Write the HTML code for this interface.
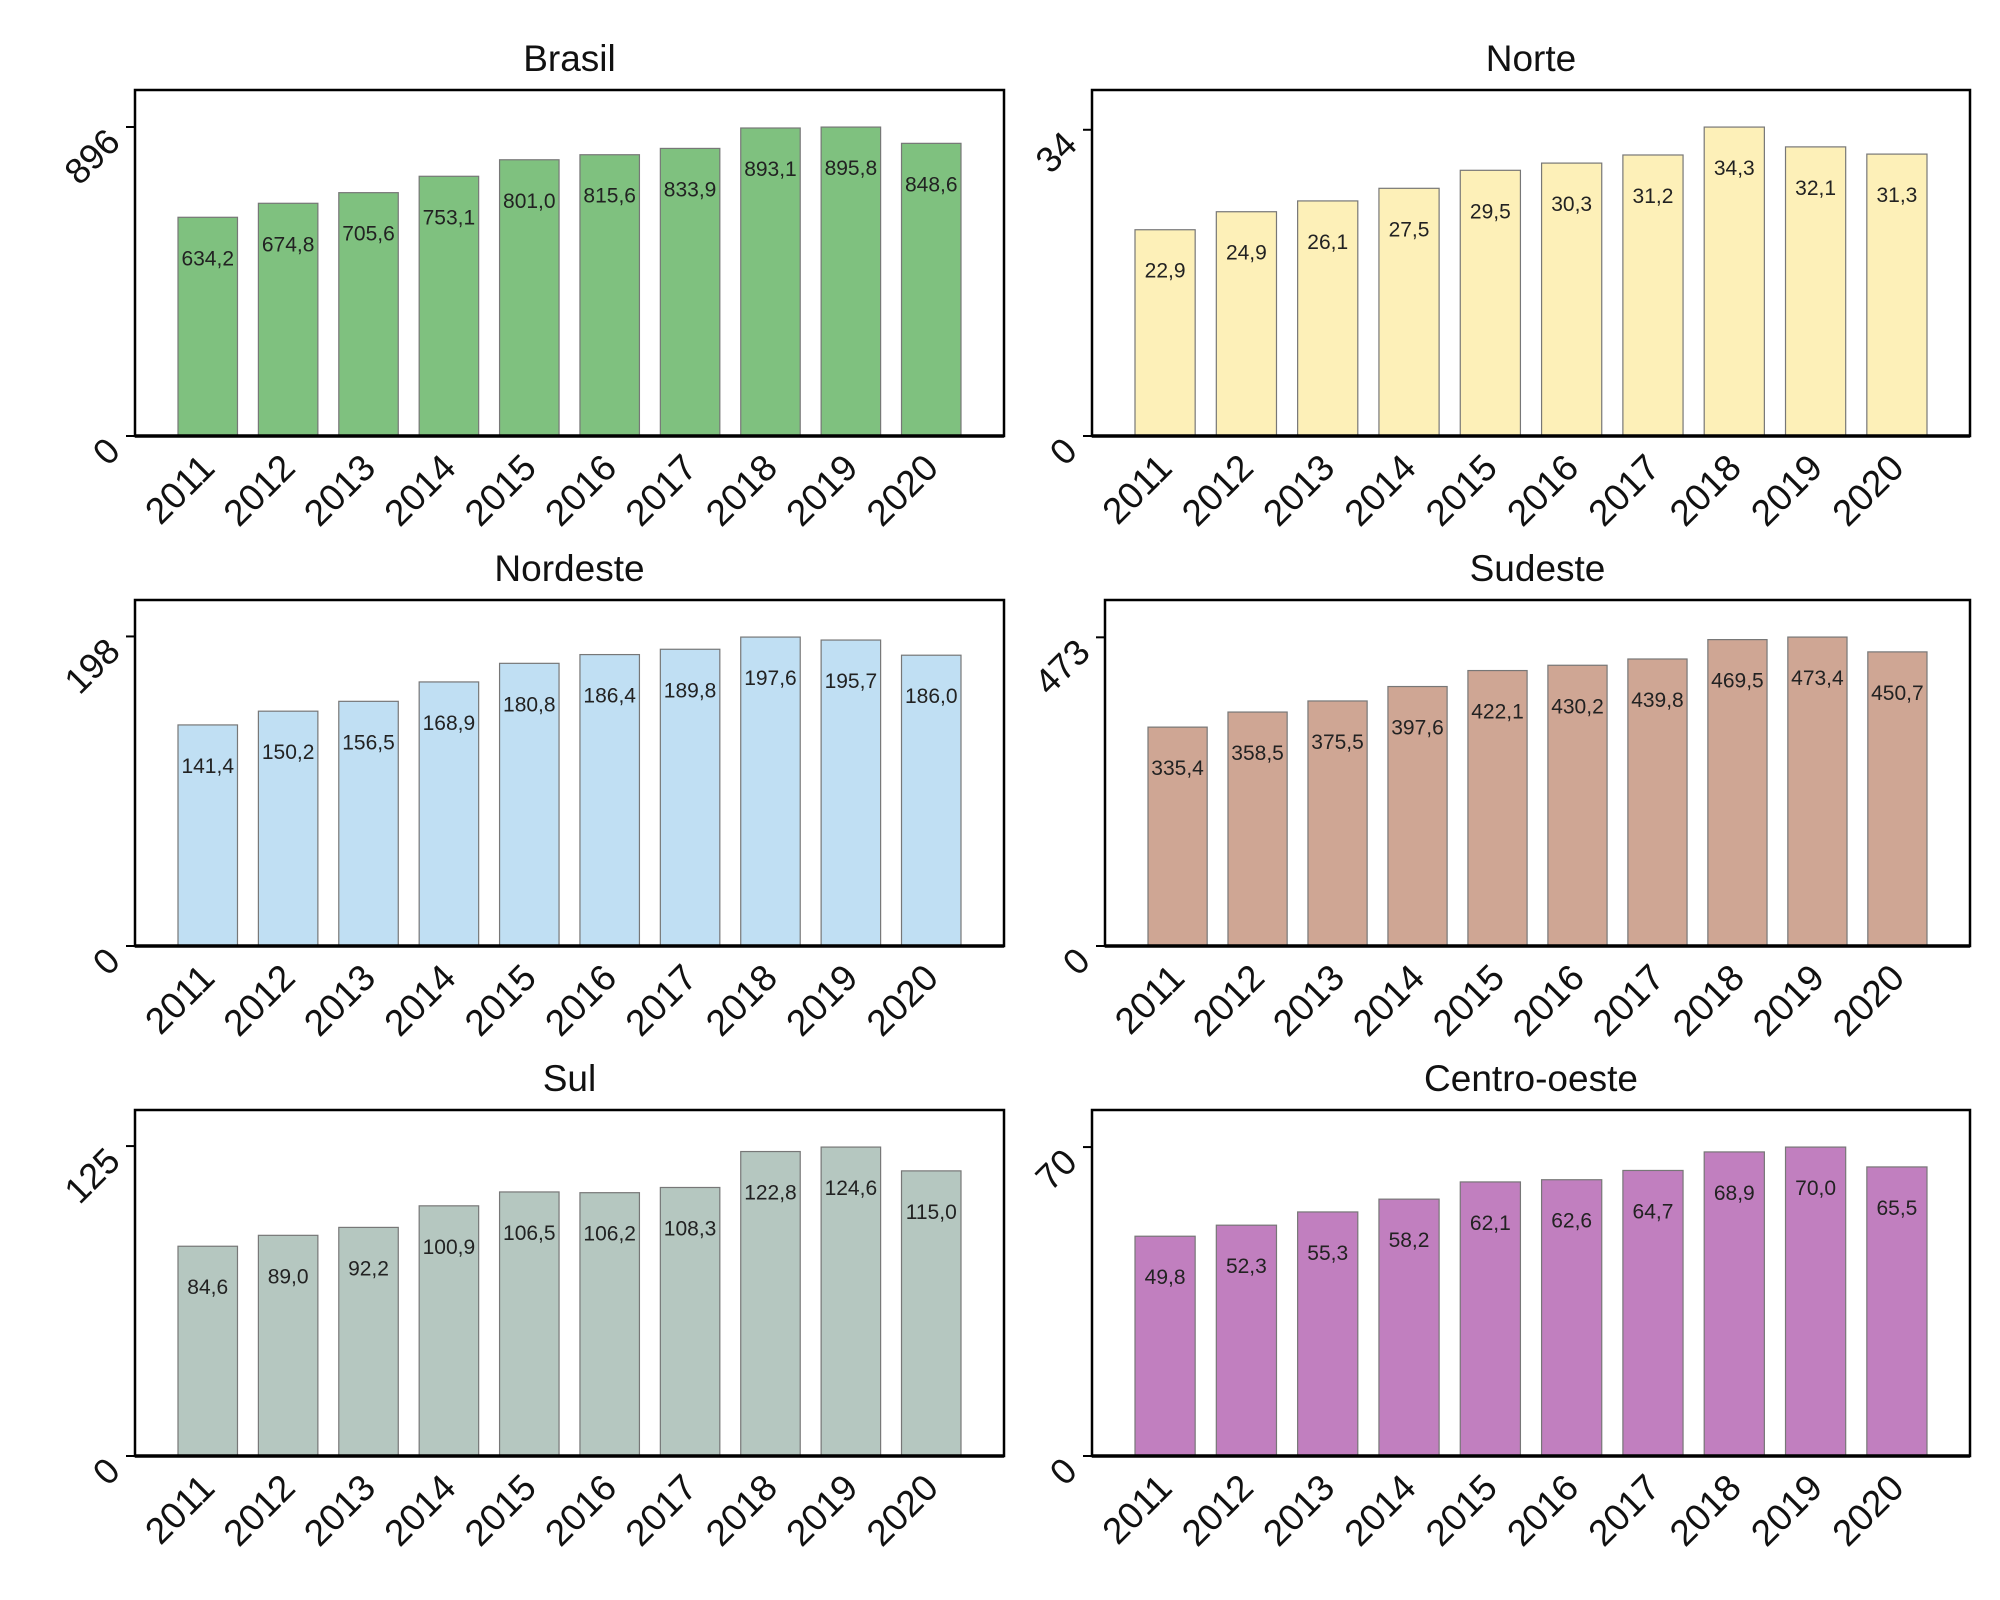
<!DOCTYPE html>
<html><head><meta charset="utf-8">
<style>
html,body{margin:0;padding:0;background:#fff;}
svg{display:block;font-family:"Liberation Sans",Arial,sans-serif;}
</style></head>
<body>
<svg id="chart" width="2000" height="1600" viewBox="0 0 2000 1600" xmlns="http://www.w3.org/2000/svg"></svg>
<script>
const years = ["2011","2012","2013","2014","2015","2016","2017","2018","2019","2020"];
const brasilValues = [634.2,674.8,705.6,753.1,801.0,815.6,833.9,893.1,895.8,848.6];
const norteValues = [22.9,24.9,26.1,27.5,29.5,30.3,31.2,34.3,32.1,31.3];
const nordesteValues = [141.4,150.2,156.5,168.9,180.8,186.4,189.8,197.6,195.7,186.0];
const sudesteValues = [335.4,358.5,375.5,397.6,422.1,430.2,439.8,469.5,473.4,450.7];
const sulValues = [84.6,89.0,92.2,100.9,106.5,106.2,108.3,122.8,124.6,115.0];
const centroValues = [49.8,52.3,55.3,58.2,62.1,62.6,64.7,68.9,70.0,65.5];
const panelTitles = ["Brasil","Norte","Nordeste","Sudeste","Sul","Centro-oeste"];
const panelTicks = [896,34,198,473,125,70];
const panelValues = [brasilValues,norteValues,nordesteValues,sudesteValues,sulValues,centroValues];
const panelColors = ["#7fc17f","#fdf0b8","#c0dff3","#cfa694","#b5c7c0","#c17fbf"];

const NS="http://www.w3.org/2000/svg";
const svg=document.getElementById('chart');
function mk(tag,attrs,parent){const e=document.createElementNS(NS,tag);for(const k in attrs)e.setAttribute(k,attrs[k]);(parent||svg).appendChild(e);return e;}
function fmt(v){return v.toFixed(1).replace('.',',');}

const lefts=[135,1092,135,1105,135,1092];
const rights=[1004,1970,1004,1970,1004,1970];
for(let p=0;p<6;p++){
  const row=Math.floor(p/2);
  const L=lefts[p],R=rights[p];
  const T=90+row*510, B=436+row*510;
  const vals=panelValues[p];
  const ymax=Math.max(...vals)*1.12;
  const y=v=>B-(v/ymax)*(B-T);
  const margin=43;
  const pitch=(R-L-2*margin)/(9+0.74);
  const bw=pitch*0.74;
  const x=i=>L+margin+i*pitch;
  const g=mk('g',{});
  
  
  const t=mk('text',{x:(L+R)/2,y:T-19,'text-anchor':'middle','font-size':37,fill:'#111'},g);
  t.textContent=panelTitles[p];
  
  
  for(let i=0;i<vals.length;i++){
    const r=mk('rect',{x:x(i),y:y(vals[i]),width:bw,height:B-y(vals[i]),fill:panelColors[p],stroke:'#777','stroke-width':1.2},g);
    
    
    const lb=mk('text',{x:x(i)+bw/2,y:y(vals[i])+48,'text-anchor':'middle','font-size':21,fill:'#222'},g);
    lb.textContent=fmt(vals[i]);
    
    
    const cx=x(i)+bw/2+9, cy=B+34;
    const yl=mk('text',{x:cx,y:cy,'text-anchor':'end','font-size':37,fill:'#111',transform:`rotate(-45 ${cx} ${cy})`},g);
    yl.textContent=years[i];
    
    
  }
  const fr=mk('rect',{x:L,y:T,width:R-L,height:B-T,fill:'none',stroke:'#000','stroke-width':2.5},g);
  
  
  mk('line',{x1:L,x2:R,y1:B,y2:B,stroke:'#000','stroke-width':3.5},g);
  [0,panelTicks[p]].forEach(tv=>{
    const ty=y(tv);
    mk('line',{x1:L-9,x2:L,y1:ty,y2:ty,stroke:'#000','stroke-width':2},g);
    const ax=L-13, ay=ty+17;
    const tl=mk('text',{x:ax,y:ay,'text-anchor':'end','font-size':36,fill:'#111',transform:`rotate(-45 ${ax} ${ay})`},g);
    tl.textContent=String(tv);
    
    
  });
}
</script>
</body></html>
